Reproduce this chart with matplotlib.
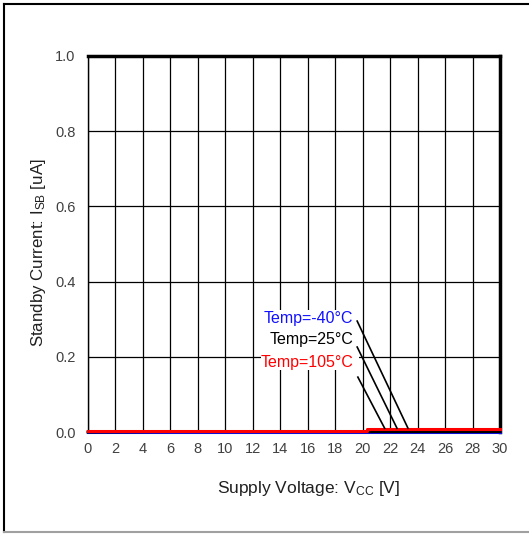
import numpy as np
import matplotlib
matplotlib.use("Agg")
import matplotlib.pyplot as plt
from matplotlib.lines import Line2D
from matplotlib.patches import Rectangle

plt.rcParams['font.family'] = ['Liberation Sans', 'DejaVu Sans']
plt.rcParams['mathtext.fontset'] = 'custom'
plt.rcParams['mathtext.rm'] = 'Liberation Sans'
plt.rcParams['mathtext.it'] = 'Liberation Sans'

# standby current vs supply voltage, three temperatures
vcc = [0, 6, 20.3, 20.3, 30]
isb_m40 = [0.0, 0.0, 0.0, 0.0, 0.0]
isb_25 = [0.0, 0.001, 0.001, 0.001, 0.001]
isb_105 = [0.003, 0.003, 0.003, 0.008, 0.008]

labels = ['Temp=-40°C', 'Temp=25°C', 'Temp=105°C']
colors = ['#1010ff', 'black', 'red']
label_y = [0.303, 0.245, 0.186]
leader_start = [(19.6, 0.295), (19.6, 0.226), (19.65, 0.146)]
leader_end = [(23.3, 0.01), (22.5, 0.01), (21.6, 0.01)]

fig = plt.figure(figsize=(5.29, 5.34), dpi=100)
ax = fig.add_axes([88 / 529, (534 - 432) / 534, 412 / 529, 376 / 534])

ax.plot(vcc, isb_m40, color=colors[0], lw=2.2, zorder=3, clip_on=False)
ax.plot(vcc, isb_25, color=colors[1], lw=2.2, zorder=4, clip_on=False)
ax.plot(vcc, isb_105, color=colors[2], lw=2.2, zorder=5, clip_on=False)

# white panel behind the temperature labels
ax.add_patch(Rectangle((12.6, 0.165), 7.1, 0.16, facecolor='white', edgecolor='none', zorder=2))
for lab, c, y, s, e in zip(labels, colors, label_y, leader_start, leader_end):
    ax.text(19.3, y, lab, color=c, fontsize=11.5, ha='right', va='center', zorder=6)
    ax.plot([s[0], e[0]], [s[1], e[1]], color='black', lw=1.2, zorder=6)

ax.set_xlim(0, 30)
ax.set_ylim(0, 1.0)
ax.set_xticks(np.arange(0, 31, 2))
ax.set_yticks(np.arange(0, 1.01, 0.2))
ax.set_yticklabels([f'{v:.1f}' for v in np.arange(0, 1.01, 0.2)])
ax.grid(True, color='black', lw=0.9, zorder=1)
ax.set_axisbelow(True)
ax.tick_params(length=0, labelsize=10.5, labelcolor='#404040')
ax.tick_params(axis='x', pad=7)
ax.tick_params(axis='y', pad=9)

ax.spines['left'].set_linewidth(1.0)
ax.spines['bottom'].set_linewidth(1.0)
ax.spines['top'].set_linewidth(2.5)
ax.spines['right'].set_linewidth(2.5)

ax.set_xlabel(r'Supply Voltage: V$_{\mathrm{CC}}$ [V]', fontsize=12.5, color='#202020')
ax.set_ylabel(r'Standby Current: I$_{\mathrm{SB}}$ [uA]', fontsize=12.2, color='#202020')
ax.xaxis.set_label_coords(0.535, -0.125)
ax.yaxis.set_label_coords(-0.097, 0.476)

# outer frame
fig.add_artist(Line2D([4 / 529, 528 / 529], [1 - 4 / 534, 1 - 4 / 534], color='black', lw=1.5))
fig.add_artist(Line2D([4 / 529, 4 / 529], [1 - 4 / 534, 1 - 532 / 534], color='black', lw=1.5))
fig.add_artist(Line2D([4 / 529, 529 / 529], [1 - 532 / 534, 1 - 532 / 534], color='#a0a0a0', lw=1.5))

fig.savefig('out.png', dpi=100)
